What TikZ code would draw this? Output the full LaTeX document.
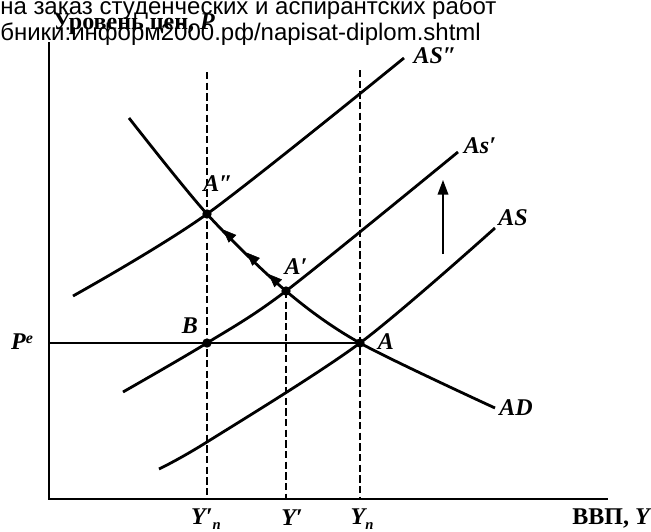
\documentclass[tikz,border=0pt]{standalone}
\usepackage{fontspec}
\setmainfont{Liberation Serif}
\newfontfamily\wmfont{Liberation Sans}
\usetikzlibrary{arrows.meta,decorations.markings}
\begin{document}
\begin{tikzpicture}[x=0.75pt,y=-0.75pt,
  curve/.style={line width=2.1pt},
  axis/.style={line width=1.5pt},
  guide/.style={line width=1.1pt, dash pattern=on 5.5pt off 2.5pt},
  dot/.style={circle,fill,inner sep=0pt,minimum size=7pt},
  lbl/.style={font=\fontsize{18}{18}\selectfont\bfseries\itshape, inner sep=0pt},
  wm/.style={font=\wmfont\fontsize{18}{18}\selectfont, inner sep=0pt, anchor=base west},
  ]
\useasboundingbox (0,0) rectangle (651,532);
% axes
\coordinate (O) at (49,499);
\coordinate (ytop) at (49,42);
\coordinate (xend) at (608,499);
\draw[axis] (ytop) -- (O) -- (xend);
% points
\coordinate (A) at (360,343);
\coordinate (B) at (207,343);
\coordinate (A1) at (286,291);
\coordinate (A2) at (207,214);
% guides
\coordinate (pe) at (49,343);
\coordinate (t1) at (207,72);
\coordinate (b1) at (207,499);
\coordinate (b2) at (286,499);
\coordinate (t3) at (360,70);
\coordinate (b3) at (360,499);
\draw[guide] (t1) -- (b1);
\draw[guide] (A1) -- (b2);
\draw[guide] (t3) -- (b3);
\draw[line width=1.1pt] (pe) -- (A);
% curves
\draw[curve] plot[smooth] coordinates {(129,118) (207,214) (286,291) (360,343) (495,408)};
\draw[curve] plot[smooth] coordinates {(159,469) (207,442) (360,343) (495,228)};
\draw[curve] plot[smooth] coordinates {(123,392) (207,343) (286,291) (458,152)};
\draw[curve] plot[smooth] coordinates {(73,296) (207,214) (404,58)};
% arrows along AD
\path[decoration={markings,
   mark=at position 0.22 with {\arrow{Triangle[length=10pt,width=8pt]}},
   mark=at position 0.50 with {\arrow{Triangle[length=10pt,width=8pt]}},
   mark=at position 0.80 with {\arrow{Triangle[length=10pt,width=8pt]}}},
   postaction=decorate] (A1) -- (A2);
% shift arrow
\coordinate (va) at (443,254);
\coordinate (vb) at (443,180);
\draw[line width=1.1pt,-{Triangle[length=11pt,width=8pt]}] (va) -- (vb);
% dots
\foreach \p in {A,B,A1,A2} \node[dot] at (\p) {};
% labels
\node[lbl] (lASpp) at (435,56) {AS″};
\node[lbl] (lASp) at (480,146) {As′};
\node[lbl] (lAS) at (513,218) {AS};
\node[lbl] (lAD) at (516,408) {AD};
\node[lbl] (lA) at (386,342) {A};
\node[lbl] (lB) at (190,326) {B};
\node[lbl] (lA1) at (296,267) {A′};
\node[lbl] (lA2) at (218,184) {A″};
\node[lbl] (lP) at (22,342) {P\raisebox{0.6ex}{\fontsize{12}{12}\selectfont e}};
\node[lbl] (lYn1) at (206,519) {Y′\raisebox{-0.5ex}{\fontsize{11}{11}\selectfont п}};
\node[lbl] (lY1) at (292,518) {Y′};
\node[lbl] (lYn) at (362,519) {Y\raisebox{-0.5ex}{\fontsize{11}{11}\selectfont п}};
\node[lbl, anchor=base east] (lX) at (650,524) {\upshape ВВП, \itshape Y};
% titles
\node[font=\fontsize{18}{18}\selectfont\bfseries, inner sep=0pt, anchor=base west] (ylab) at (53,29) {Уровень цен, \itshape P};
\node[wm] (wm1) at (0,14) {на заказ студенческих и аспирантских работ};
\node[wm] (wm2) at (0,40) {бники:информ2000.рф/napisat-diplom.shtml};
\end{tikzpicture}
\end{document}
